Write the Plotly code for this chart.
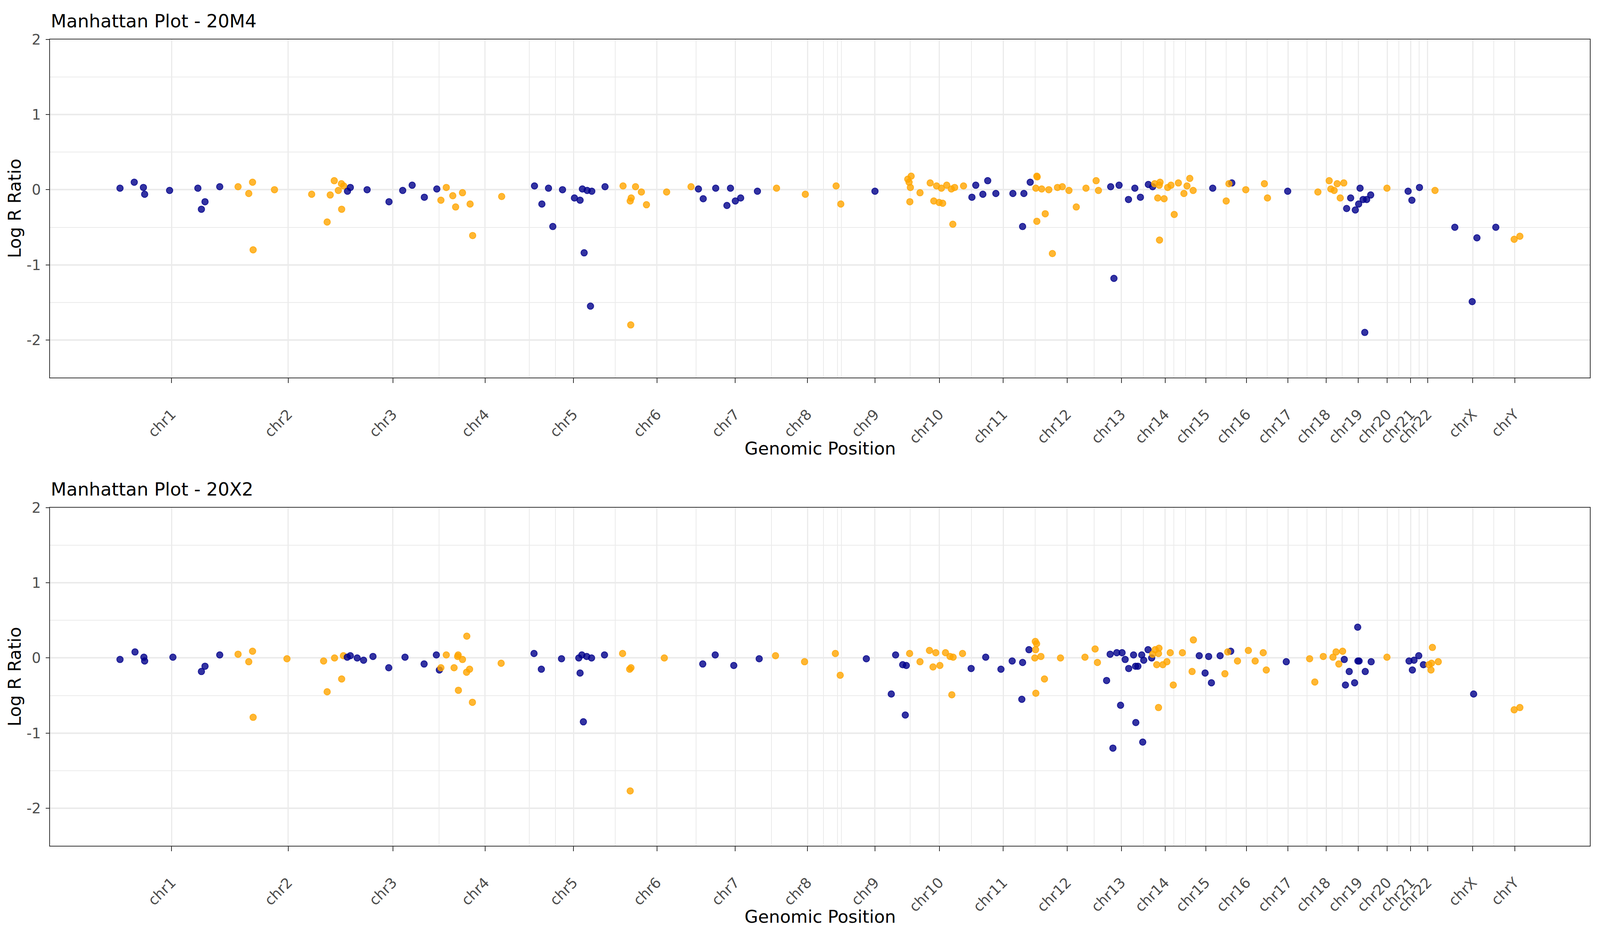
"""Manhattan plots of Log R Ratio for two samples (20M4, 20X2)"""

import plotly.graph_objects as go
from plotly.subplots import make_subplots

# chromosome order along the genome and the tick position (Mb, cumulative) of each label
chromosomes = ["chr1", "chr2", "chr3", "chr4", "chr5", "chr6", "chr7", "chr8",
               "chr9", "chr10", "chr11", "chr12", "chr13", "chr14", "chr15", "chr16",
               "chr17", "chr18", "chr19", "chr20", "chr21", "chr22", "chrX", "chrY"]
chr_centers = [205.2, 402.3, 579.3, 735.4, 884.8, 1026.0, 1158.5, 1280.8,
               1394.8, 1503.7, 1611.8, 1719.8, 1811.5, 1885.5, 1954.4, 2023.2,
               2093.4, 2158.3, 2212.5, 2261.2, 2301.0, 2329.7, 2405.9, 2476.8]

# ---- sample 20M4 ----
# number of probes per chromosome (same order as chromosomes)
n_20M4 = [9, 13, 8, 8, 13, 9, 8, 4, 1, 17, 9, 15, 8, 14, 2, 5, 1, 7, 9, 1, 3, 1, 4, 2]
pos_20M4 = [
    117.8, 141.9, 157.4, 159.5, 201.7, 249.5, 255.5, 261.6, 286.5,
    317.5, 335.6, 342.0, 343.0, 379.1, 442.0, 468.2, 473.4, 480.2, 487.1, 492.3, 492.7, 496.2,
    502.6, 507.4, 535.8, 572.8, 596.0, 612.0, 632.6, 653.7,
    660.6, 669.7, 680.7, 685.5, 697.1, 710.0, 714.3, 763.4,
    818.9, 831.4, 842.6, 849.9, 866.3, 886.5, 896.0, 899.9, 902.9, 908.0, 913.6, 915.8, 938.2,
    968.7, 980.8, 981.7, 982.5, 989.8, 999.7, 1008.3, 1042.4, 1083.7,
    1096.2, 1104.3, 1125.4, 1144.4, 1150.4, 1158.6, 1167.6, 1196.0,
    1228.3, 1277.0, 1329.1, 1337.0,
    1394.8,
    1450.3, 1452.5, 1453.8, 1454.7, 1456.0, 1471.0, 1488.2, 1494.3, 1499.0, 1503.3, 1507.2,
    1509.3, 1516.2, 1524.0, 1526.5, 1529.6, 1544.6,
    1558.8, 1565.3, 1577.3, 1585.5, 1599.3, 1628.1, 1644.5, 1646.7, 1657.4,
    1666.9, 1668.6, 1668.6, 1669.2, 1676.8, 1682.8, 1688.8, 1694.9, 1703.5, 1711.7, 1722.9,
    1735.3, 1751.7, 1768.9, 1772.8,
    1793.5, 1799.0, 1807.7, 1823.6, 1834.4, 1843.8, 1857.2, 1864.5,
    1867.9, 1873.1, 1875.7, 1876.1, 1877.0, 1883.9, 1889.9, 1895.5, 1901.0, 1908.0, 1917.4,
    1922.6, 1927.3, 1933.0,
    1966.1, 1998.4,
    1988.9, 1993.5, 2022.0, 2053.5, 2058.7,
    2092.9,
    2144.0, 2163.1, 2165.9, 2171.5, 2176.6, 2181.8, 2187.8,
    2192.6, 2199.4, 2207.3, 2212.9, 2215.3, 2220.5, 2223.3, 2226.5, 2233.3,
    2260.8,
    2296.6, 2303.0, 2315.8,
    2342.1,
    2375.6, 2405.0, 2413.0, 2444.9,
    2476.0, 2485.6,
]
lrr_20M4 = [
    0.02, 0.10, 0.03, -0.06, -0.01, 0.02, -0.26, -0.16, 0.04,
    0.04, -0.05, 0.10, -0.80, 0.00, -0.06, -0.43, -0.07, 0.12, -0.01, 0.08, -0.26, 0.05,
    -0.02, 0.03, 0.00, -0.16, -0.01, 0.06, -0.10, 0.01,
    -0.14, 0.03, -0.08, -0.23, -0.04, -0.19, -0.61, -0.09,
    0.05, -0.19, 0.02, -0.49, 0.00, -0.11, -0.14, 0.01, -0.84, -0.01, -1.55, -0.02, 0.04,
    0.05, -0.15, -1.80, -0.11, 0.04, -0.03, -0.20, -0.03, 0.04,
    0.01, -0.12, 0.02, -0.21, 0.02, -0.15, -0.11, -0.02,
    0.02, -0.06, 0.05, -0.19,
    -0.02,
    0.14, 0.10, -0.16, 0.03, 0.18, -0.04, 0.09, -0.15, 0.05, -0.17, 0.02,
    -0.18, 0.06, 0.01, -0.46, 0.03, 0.05,
    -0.10, 0.06, -0.06, 0.12, -0.05, -0.05, -0.49, -0.05, 0.10,
    0.02, 0.18, -0.42, 0.17, 0.01, -0.32, 0.00, -0.85, 0.03, 0.04, -0.01,
    -0.23, 0.02, 0.12, -0.01,
    0.04, -1.18, 0.06, -0.13, 0.02, -0.10, 0.07, 0.04,
    0.08, -0.11, 0.06, -0.67, 0.10, -0.12, 0.03, 0.06, -0.33, 0.09, -0.05,
    0.05, 0.15, -0.01,
    0.02, 0.09,
    -0.15, 0.08, 0.00, 0.08, -0.11,
    -0.02,
    -0.03, 0.12, 0.01, -0.01, 0.08, -0.11, 0.09,
    -0.25, -0.11, -0.27, -0.19, 0.02, -0.13, -1.90, -0.13, -0.07,
    0.02,
    -0.02, -0.14, 0.03,
    -0.01,
    -0.50, -1.49, -0.64, -0.50,
    -0.66, -0.62,
]

# ---- sample 20X2 ----
n_20X2 = [8, 10, 10, 12, 10, 5, 4, 4, 6, 11, 7, 11, 17, 13, 6, 7, 1, 7, 9, 1, 5, 5, 1, 2]
pos_20X2 = [
    117.8, 143.2, 158.2, 159.5, 207.3, 255.5, 261.6, 286.5,
    317.5, 335.6, 342.0, 343.0, 400.2, 462.2, 468.2, 480.7, 492.7, 495.7,
    502.2, 507.4, 519.0, 529.8, 545.7, 572.4, 599.9, 632.2, 652.9, 658.0,
    660.6, 669.7, 682.9, 688.9, 689.8, 690.2, 697.1, 704.0, 704.4, 709.1, 713.9, 762.5,
    818.1, 830.5, 864.6, 893.8, 896.0, 899.0, 901.6, 907.2, 915.4, 937.3,
    967.9, 979.9, 980.8, 982.1, 1038.5,
    1103.5, 1124.6, 1156.0, 1199.0,
    1226.6, 1275.7, 1327.8, 1336.0,
    1380.2, 1422.4, 1429.7, 1441.7, 1446.1, 1447.8,
    1453.4, 1471.0, 1487.0, 1493.0, 1497.7, 1504.6, 1514.1, 1521.8, 1524.8, 1527.0, 1542.9,
    1557.5, 1582.1, 1607.9, 1626.9, 1643.2, 1644.5, 1655.3,
    1665.2, 1666.0, 1666.5, 1666.9, 1668.2, 1675.5, 1681.5, 1708.6, 1750.0, 1767.2, 1771.1,
    1786.6, 1792.6, 1797.3, 1803.8, 1810.2, 1812.8, 1818.0, 1824.0, 1832.2, 1835.6, 1836.0,
    1839.5, 1846.0, 1847.7, 1849.4, 1856.7, 1862.8,
    1864.5, 1868.8, 1871.4, 1874.4, 1874.4, 1875.2, 1881.7, 1888.6, 1894.2, 1899.4, 1914.8,
    1931.2, 1933.4,
    1943.3, 1953.2, 1959.2, 1963.9, 1978.6, 1996.5,
    1986.7, 1991.4, 2008.0, 2026.4, 2037.9, 2051.5, 2056.7,
    2090.5,
    2130.0, 2138.8, 2153.1, 2169.5, 2174.7, 2179.4, 2185.8,
    2188.6, 2190.6, 2197.0, 2206.1, 2211.3, 2211.7, 2213.7, 2224.1, 2234.1,
    2260.8,
    2298.2, 2303.8, 2306.6, 2314.6, 2322.5,
    2331.7, 2335.3, 2336.1, 2337.7, 2347.6,
    2407.4,
    2476.0, 2485.6,
]
lrr_20X2 = [
    -0.02, 0.08, 0.01, -0.04, 0.01, -0.18, -0.11, 0.04,
    0.05, -0.05, 0.09, -0.79, -0.01, -0.04, -0.45, 0.00, -0.28, 0.03,
    0.01, 0.03, 0.00, -0.03, 0.02, -0.13, 0.01, -0.08, 0.04, -0.16,
    -0.13, 0.04, -0.13, 0.02, 0.04, -0.43, -0.02, -0.19, 0.29, -0.15, -0.59, -0.07,
    0.06, -0.15, -0.01, 0.00, -0.20, 0.04, -0.85, 0.02, 0.00, 0.04,
    0.06, -0.15, -1.77, -0.13, 0.00,
    -0.08, 0.04, -0.10, -0.01,
    0.03, -0.05, 0.06, -0.23,
    -0.01, -0.48, 0.04, -0.09, -0.76, -0.10,
    0.06, -0.05, 0.10, -0.12, 0.07, -0.10, 0.07, 0.02, -0.49, 0.01, 0.06,
    -0.14, 0.01, -0.15, -0.04, -0.55, -0.06, 0.11,
    0.00, 0.22, 0.11, -0.47, 0.19, 0.02, -0.28, 0.00, 0.01, 0.12, -0.06,
    -0.30, 0.05, -1.20, 0.07, -0.63, 0.07, -0.02, -0.14, 0.04, -0.11, -0.86,
    -0.11, 0.04, -1.12, -0.03, 0.11, 0.00,
    0.05, 0.11, -0.09, 0.06, -0.66, 0.13, -0.09, -0.05, 0.07, -0.36, 0.07,
    -0.18, 0.24,
    0.03, -0.20, 0.02, -0.33, 0.03, 0.09,
    -0.21, 0.08, -0.04, 0.10, -0.04, 0.07, -0.16,
    -0.05,
    -0.01, -0.32, 0.02, 0.01, 0.08, -0.08, 0.09,
    -0.02, -0.36, -0.18, -0.33, 0.41, -0.04, -0.04, -0.18, -0.05,
    0.01,
    -0.04, -0.16, -0.03, 0.03, -0.09,
    -0.09, -0.16, -0.07, 0.14, -0.05,
    -0.48,
    -0.69, -0.66,
]

samples = [("20M4", pos_20M4, lrr_20M4, n_20M4),
           ("20X2", pos_20X2, lrr_20X2, n_20X2)]

# alternate colours along the genome
colors = ["rgba(0,0,139,0.8)", "rgba(255,165,0,0.8)"]

# minor grid lines sit between labels taken in alphabetical order (ggplot quirk)
alpha_order = sorted(range(len(chromosomes)), key=lambda i: chromosomes[i])
minor_breaks = [(chr_centers[a] + chr_centers[b]) / 2
                for a, b in zip(alpha_order[:-1], alpha_order[1:])]

# x range = data range expanded by 5% on each side
all_pos = pos_20M4 + pos_20X2
span = max(all_pos) - min(all_pos)
x_range = [min(all_pos) - 0.05 * span, max(all_pos) + 0.05 * span]

# the page viewport is about 4090 x 2396 css px; layout below is measured on a
# 5400 x 2400 canvas and scaled to it (sx horizontally, sy vertically, sf for text)
VW, VH = 4090, 2396
sx = VW / 5400
sy = VH / 2400
sf = 0.8

font_family = "DejaVu Sans"
grid_color = "#EBEBEB"
dark = "#333333"
tick_font = dict(family=font_family, size=46 * sf, color="#4D4D4D")

fig = make_subplots(rows=2, cols=1, vertical_spacing=0.1615)

for row, (name, pos, lrr, counts) in enumerate(samples, start=1):
    start = 0
    for k, (chrom, n) in enumerate(zip(chromosomes, counts)):
        color = colors[k % 2]
        fig.add_trace(go.Scatter(
            x=pos[start:start + n], y=lrr[start:start + n],
            mode="markers", name=chrom, showlegend=False,
            marker=dict(size=16.5, color=color, line=dict(width=2, color=color)),
        ), row=row, col=1)
        start += n

    fig.update_xaxes(
        row=row, col=1, range=x_range,
        tickmode="array", tickvals=chr_centers, ticktext=chromosomes, tickangle=-45,
        tickfont=tick_font, ticklabelstandoff=round(44 * sy),
        ticks="outside", ticklen=12 * sy, tickwidth=2.5 * sx, tickcolor=dark,
        showline=True, linecolor=dark, linewidth=2 * sy, mirror=True,
        showgrid=True, gridcolor=grid_color, gridwidth=4 * sx, zeroline=False,
        minor=dict(tickmode="array", tickvals=minor_breaks, ticks="",
                   showgrid=True, gridcolor=grid_color, gridwidth=2 * sx),
    )
    fig.update_yaxes(
        row=row, col=1, range=[-2.5, 2],
        tickmode="array", tickvals=[-2, -1, 0, 1, 2], ticktext=["-2", "-1", "0", "1", "2"],
        tickfont=tick_font, ticklabelstandoff=round(6 * sx),
        ticks="outside", ticklen=12 * sx, tickwidth=2.5 * sy, tickcolor=dark,
        showline=True, linecolor=dark, linewidth=2 * sx, mirror=True,
        showgrid=True, gridcolor=grid_color, gridwidth=4 * sy, zeroline=False,
        minor=dict(tickmode="linear", tick0=0, dtick=0.5, ticks="",
                   showgrid=True, gridcolor=grid_color, gridwidth=2 * sy),
    )

# panel titles and axis titles
panel_top = [1.0, 0.41925]
panel_bottom = [0.58075, 0.0]
for (name, _, _, _), top, bottom in zip(samples, panel_top, panel_bottom):
    fig.add_annotation(text="Manhattan Plot - " + name, xref="paper", yref="paper",
                       x=0, y=top, xanchor="left", yanchor="bottom", yshift=18 * sy,
                       showarrow=False, font=dict(family=font_family, size=58 * sf, color="black"))
    fig.add_annotation(text="Log R Ratio", xref="paper", yref="paper",
                       x=0, y=(top + bottom) / 2, xshift=-120 * sx, textangle=-90,
                       xanchor="center", yanchor="middle", showarrow=False,
                       font=dict(family=font_family, size=56 * sf, color="black"))
    fig.add_annotation(text="Genomic Position", xref="paper", yref="paper",
                       x=0.5, y=bottom, yshift=-182 * sy, xanchor="center", yanchor="middle",
                       showarrow=False, font=dict(family=font_family, size=56 * sf, color="black"))

# figure fills the window; the page body keeps its 8px margin
W = VW - 16
H = VH - 16
fig.update_layout(
    width=W, height=H,
    margin=dict(l=169 * sx - 8, r=W - (5376 * sx - 8),
                t=101.3 * sy - 8, b=H - (2167.6 * sy - 8)),
    paper_bgcolor="white", plot_bgcolor="white",
    font=dict(family=font_family),
    showlegend=False,
)

fig.write_html("out.html")
